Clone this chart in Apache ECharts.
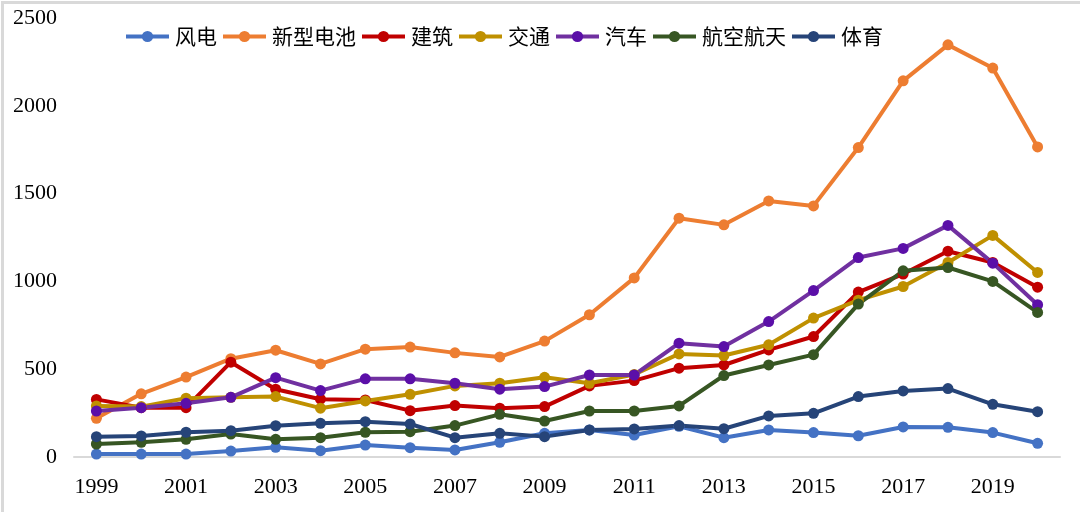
<!DOCTYPE html>
<html><head><meta charset="utf-8">
<script src="https://cdn.jsdelivr.net/npm/echarts@6/dist/echarts.min.js"></script>
<style>html,body{margin:0;padding:0;background:#fff}#c{width:1080px;height:512px}</style>
</head><body><div id="c"></div>
<script>
const years = ['1999','2000','2001','2002','2003','2004','2005','2006','2007','2008','2009','2010','2011','2012','2013','2014','2015','2016','2017','2018','2019','2020'];
const fengdian = [17,17,17,34,55,36,68,53,40,84,135,154,125,175,110,154,139,121,171,169,139,78];
const dianchi = [220,360,455,560,608,530,614,626,593,570,660,810,1020,1360,1322,1458,1430,1762,2142,2347,2215,1766];
const jianzhu = [328,281,281,540,386,329,325,264,293,278,287,405,435,506,524,610,686,939,1042,1172,1108,967];
const jiaotong = [291,287,335,340,344,278,319,357,405,420,454,420,470,587,578,639,791,893,971,1108,1262,1051];
const qiche = [262,281,306,340,452,378,445,445,420,386,401,467,467,648,629,771,948,1136,1188,1319,1104,867];
const hangkong = [74,84,101,131,101,110,141,144,179,243,205,262,262,291,464,524,583,871,1060,1079,1000,823];
const tiyu = [116,120,141,150,178,192,201,188,110,135,116,154,160,179,161,234,249,344,376,390,300,258];
const yTicks = [0,500,1000,1500,2000,2500];

const names = ['风电','新型电池','建筑','交通','汽车','航空航天','体育'];
const datas = [fengdian,dianchi,jianzhu,jiaotong,qiche,hangkong,tiyu];
const lineColors = ['#4472C4','#ED7D31','#C00000','#BF9000','#7030A0','#375623','#264478'];
const dotColors = ['#4472C4','#ED7D31','#C00000','#BF9000','#5B0FA8','#375623','#264478'];

const chart = echarts.init(document.getElementById('c'), null, {renderer:'canvas'});
chart.setOption({
  animation:false,
  backgroundColor:'#fff',
  graphic:[{type:'rect',left:0,top:0,shape:{width:1079,height:511},style:{fill:'none',stroke:'#d9d9d9',lineWidth:3},silent:true}],
  legend:{
    left:119, top:21, itemWidth:43, itemHeight:14, itemGap:4,
    lineStyle:{width:4},
    textStyle:{fontFamily:'Noto Sans CJK SC',fontSize:21,color:'#000',padding:[0,0,0,1]},
    data:names
  },
  grid:{left:74,right:20,top:18,bottom:55,containLabel:false},
  xAxis:{
    type:'category', data:years, boundaryGap:true,
    axisLine:{lineStyle:{color:'#d9d9d9',width:2}},
    axisTick:{show:false},
    axisLabel:{interval:1,fontFamily:'Liberation Serif',fontSize:22,color:'#000',margin:19}
  },
  yAxis:{
    type:'value', min:yTicks[0], max:yTicks[yTicks.length-1], interval:500,
    axisLine:{show:false}, axisTick:{show:false}, splitLine:{show:false},
    axisLabel:{fontFamily:'Liberation Serif',fontSize:22,color:'#000',margin:17,formatter:v=>String(v)}
  },
  series: names.map((n,i)=>({
    name:n, type:'line', data:datas[i],
    symbol:'circle', symbolSize:11,
    lineStyle:{color:lineColors[i],width:4},
    itemStyle:{color:dotColors[i]},
    color:lineColors[i]
  }))
});
</script></body></html>
